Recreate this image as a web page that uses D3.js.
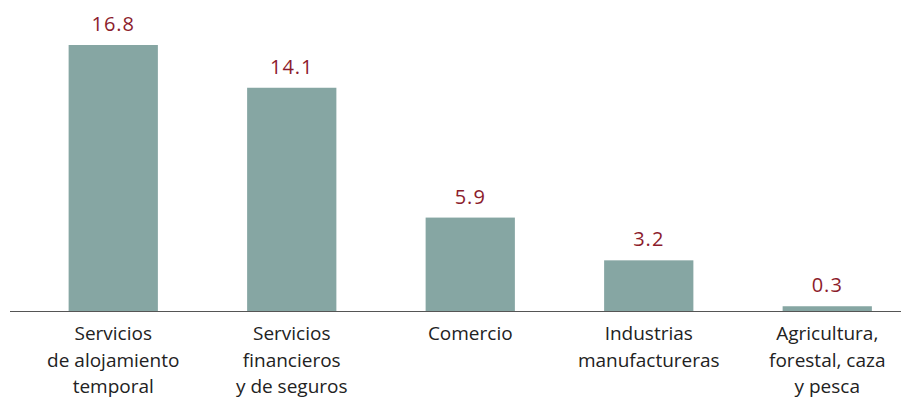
<!DOCTYPE html>
<html>
<head>
<meta charset="utf-8">
<script src="https://cdn.jsdelivr.net/npm/d3@7"></script>
<style>
  body { margin: 0; background: #fff; }
  svg text { font-family: "Open Sans", sans-serif; }
</style>
</head>
<body>
<div id="chart"></div>
<script>
/* datos del grafico */
var categories = ["Servicios|de alojamiento|temporal", "Servicios|financieros|y de seguros", "Comercio", "Industrias|manufactureras", "Agricultura,|forestal, caza|y pesca"];
var values = [16.8, 14.1, 5.9, 3.2, 0.3];
var valueLabels = ["16.8", "14.1", "5.9", "3.2", "0.3"];

var width = 901, height = 400,
    baseY = 311;

var svg = d3.select("#chart").append("svg")
    .attr("width", width)
    .attr("height", height);

var x = d3.scaleBand()
    .domain(d3.range(categories.length))
    .range([24, 916.5])
    .paddingInner(0.5)
    .paddingOuter(0.25);

var y = d3.scaleLinear()
    .domain([0, 16.8])
    .range([baseY, 45]);

// barras
svg.selectAll("rect.bar")
    .data(values)
    .enter().append("rect")
    .attr("class", "bar")
    .attr("x", function(d, i) { return x(i); })
    .attr("y", function(d) { return y(d); })
    .attr("width", x.bandwidth())
    .attr("height", function(d) { return baseY - y(d); })
    .attr("fill", "#86a6a3");

// etiquetas de valor
svg.selectAll("text.val")
    .data(values)
    .enter().append("text")
    .attr("class", "val")
    .attr("x", function(d, i) { return x(i) + x.bandwidth() / 2; })
    .attr("y", function(d) { return y(d) - 14; })
    .attr("text-anchor", "middle")
    .attr("fill", "#8c1c2c")
    .style("font-size", "20px")
    .style("letter-spacing", "1px")
    .text(function(d, i) { return valueLabels[i]; });

// eje
svg.append("line")
    .attr("x1", 10).attr("x2", 901)
    .attr("y1", baseY + 0.5).attr("y2", baseY + 0.5)
    .attr("stroke", "#555")
    .attr("stroke-width", 1.2);

// categorias
var cat = svg.selectAll("text.cat")
    .data(categories)
    .enter().append("text")
    .attr("class", "cat")
    .attr("text-anchor", "middle")
    .attr("fill", "#222")
    .style("font-size", "19px")
    .attr("transform", function(d, i) { return "translate(" + (x(i) + x.bandwidth() / 2) + "," + 340 + ")"; });

cat.selectAll("tspan")
    .data(function(d) { return d.split("|"); })
    .enter().append("tspan")
    .attr("x", 0)
    .attr("y", function(d, i) { return i * 26.5; })
    .text(function(d) { return d; });
</script>
</body>
</html>
